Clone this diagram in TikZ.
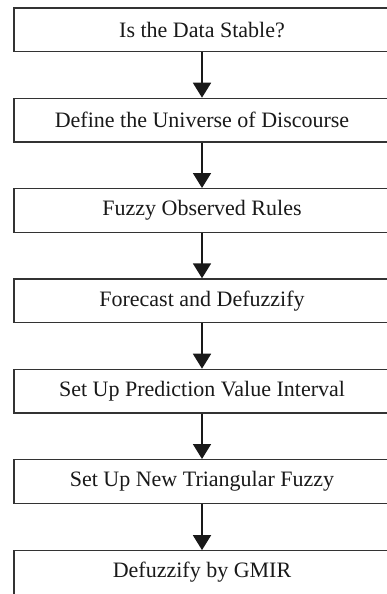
\documentclass[tikz,border=0pt]{standalone}
\usepackage{fontspec}
\setmainfont{Liberation Serif}
\usetikzlibrary{arrows.meta}
\begin{document}
\begin{tikzpicture}[x=1pt,y=-1pt,
  stepbox/.style={draw=black!80, line width=1.3pt, minimum width=376pt, minimum height=43.5pt,
    inner sep=0pt, font=\fontsize{22}{26}\selectfont, text=black!90},
  flow/.style={line width=1.9pt, black!90, -{Triangle[width=18pt,length=15pt]}}]
\useasboundingbox (0,0) rectangle (387,594);
\clip (0,0) rectangle (387,594);
\node[stepbox] (b1) at (202,29.75) {Is the Data Stable?};
\node[stepbox] (b2) at (202,120.1) {Define the Universe of Discourse};
\node[stepbox] (b3) at (202,210.4) {Fuzzy Observed Rules};
\node[stepbox] (b4) at (202,300.7) {Forecast and Defuzzify};
\node[stepbox] (b5) at (202,391.1) {Set Up Prediction Value Interval};
\node[stepbox] (b6) at (202,481.4) {Set Up New Triangular Fuzzy};
\node[stepbox] (b7) at (202,572.5) {Defuzzify by GMIR};
\foreach \a/\b in {b1/b2,b2/b3,b3/b4,b4/b5,b5/b6,b6/b7}
  \draw[flow] (\a.south) -- (\b.north);
\end{tikzpicture}
\end{document}
